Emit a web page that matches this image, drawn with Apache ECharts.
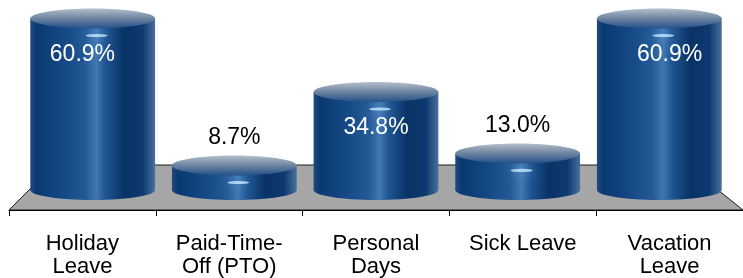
<!DOCTYPE html>
<html>
<head>
<meta charset="utf-8">
<script src="https://cdn.jsdelivr.net/npm/echarts@6/dist/echarts.min.js"></script>
<style>
html,body{margin:0;padding:0;background:#fff;}
#c{width:743px;height:278px;}
</style>
</head>
<body>
<div id="c"></div>
<script>
const categories = ['Holiday\nLeave', 'Paid-Time-\nOff (PTO)', 'Personal\nDays', 'Sick Leave', 'Vacation\nLeave'];
const values = [60.9, 8.7, 34.8, 13.0, 60.9];
const yMin = 0;
const yMax = 65;

const chart = echarts.init(document.getElementById('c'), null, {renderer: 'canvas'});

const bodyGrad = () => new echarts.graphic.LinearGradient(0, 0, 1, 0, [
  {offset: 0, color: '#1f4a80'},
  {offset: 0.05, color: '#0a3970'},
  {offset: 0.25, color: '#144784'},
  {offset: 0.44, color: '#225996'},
  {offset: 0.53, color: '#4178b3'},
  {offset: 0.6, color: '#1f5593'},
  {offset: 0.75, color: '#093366'},
  {offset: 0.9, color: '#0c3a70'},
  {offset: 1, color: '#4a719d'}
]);
const topGrad = () => new echarts.graphic.LinearGradient(0, 0, 0, 1, [
  {offset: 0, color: '#b3bfcc'},
  {offset: 0.45, color: '#7489a3'},
  {offset: 1, color: '#234f86'}
]);

function renderItem(params, api) {
  const i = api.value(0);
  const v = api.value(1);
  const p0 = api.coord([i, 0]);
  const p1 = api.coord([i, v]);
  const band = api.size([1, 0])[0];
  const midX = api.coord([2, 0])[0];
  const cx = p0[0] + (midX - p0[0]) * 0.035;
  const rx = band * 0.425;
  const ry = 10;
  const yb = p0[1];
  const yt = p1[1];
  const children = [];
  if (params.dataIndex === 0) {
    const left = p0[0] - band / 2;
    const right = left + band * categories.length;
    const fy = yb + 20, by = yb - 25;
    children.push({
      type: 'polygon',
      shape: {points: [[left, fy], [left + (fy - by), by], [right - (fy - by) * 1.25, by], [right, fy]]},
      style: {fill: '#a6a6a6', stroke: '#1a1a1a', lineWidth: 1}
    });
  }
  children.push({type: 'ellipse', shape: {cx: cx, cy: yb, rx: rx, ry: ry}, style: {fill: bodyGrad()}});
  children.push({type: 'rect', shape: {x: cx - rx, y: yt, width: rx * 2, height: yb - yt}, style: {fill: bodyGrad()}});
  children.push({type: 'ellipse', shape: {cx: cx, cy: yt, rx: rx, ry: ry}, style: {fill: topGrad()}});
  children.push({
    type: 'ellipse',
    shape: {cx: cx + 4, cy: yt + 17, rx: 11, ry: 1.6},
    style: {fill: 'rgba(200,232,255,0.8)', shadowBlur: 12, shadowColor: 'rgba(110,170,235,1)'}
  });
  const inside = v > 30;
  children.push({
    type: 'text',
    style: {
      text: v.toFixed(1) + '%',
      x: inside ? p0[0] : cx,
      y: inside ? yt + 36 : yt - 28,
      align: 'center',
      verticalAlign: 'middle',
      fontFamily: 'Liberation Sans, Arial, sans-serif',
      fontSize: 23,
      fill: inside ? '#ffffff' : '#000000'
    }
  });
  return {type: 'group', children: children};
}

chart.setOption({
  animation: false,
  grid: {left: 9, right: -6, top: 7, bottom: 88, containLabel: false},
  xAxis: {
    type: 'category',
    data: categories,
    offset: 20,
    z: 5,
    axisLine: {show: true, onZero: false, lineStyle: {color: '#000', width: 1}},
    axisTick: {show: true, length: 6, interval: 0, alignWithLabel: false, lineStyle: {color: '#000', width: 1}},
    axisLabel: {
      margin: 22,
      fontFamily: 'Liberation Sans, Arial, sans-serif',
      fontSize: 22,
      lineHeight: 23,
      color: '#000',
      interval: 0
    }
  },
  yAxis: {type: 'value', min: yMin, max: yMax, show: false, splitLine: {show: false}},
  series: [{
    type: 'custom',
    renderItem: renderItem,
    encode: {x: 0, y: 1},
    data: values.map((v, i) => [i, v]),
    clip: false
  }]
});
</script>
</body>
</html>
